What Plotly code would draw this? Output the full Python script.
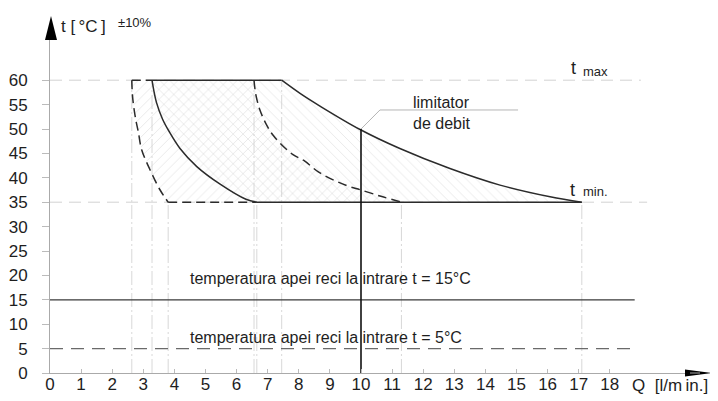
import plotly.graph_objects as go

# ---------------- data ----------------
q_ticks = list(range(0, 19))
t_ticks = list(range(0, 61, 5))

t_max = 60
t_min = 35
t_inlet_15 = 15
t_inlet_5 = 5
q_limit = 10
t_limit = 50

# left dashed curve (inlet 5 °C, minimum flow)
q_dash_left = [2.63, 2.65, 2.70, 2.77, 2.84, 2.95, 3.22, 3.54, 3.80]
t_dash_left = [60, 57, 54.2, 51.5, 49.4, 45.7, 41.6, 37.5, 35]

# left solid curve (inlet 15 °C, minimum flow)
q_solid_left = [3.28, 3.42, 3.62, 3.82, 4.18, 4.72, 5.47, 6.30, 6.65]
t_solid_left = [60, 55.5, 52.0, 49.6, 46.0, 42.3, 38.7, 35.6, 35]

# middle dashed curve (inlet 5 °C, maximum flow)
q_dash_mid = [6.56, 6.62, 6.75, 6.95, 7.20, 7.80, 8.15, 8.68, 9.54, 10.0, 10.7, 11.3]
t_dash_mid = [60, 57, 53.9, 51.0, 48.5, 44.8, 43.6, 41.0, 38.4, 37.5, 36.1, 35]

# right solid curve (inlet 15 °C, maximum flow)
q_solid_right = [7.45, 8.04, 8.68, 9.97, 11.25, 12.86, 14.47, 16.08, 17.1]
t_solid_right = [60, 57.3, 54.7, 49.9, 46.0, 41.9, 38.5, 36.1, 35]

inlet_line_q = [0, 18.8]

# ---------------- styling helpers ----------------
FONT = "Arial, Liberation Sans, sans-serif"
TXT = "#1e1e1e"
CURVE = "#2b2b2b"
DASH = "9px,5px"

OFF = 8  # page body margin
# plot area in screen pixels
L, R, T, B = 50, 700, 40, 373
W, H = 718 - OFF, 401 - OFF


def px(x, y):
    return (x - L) / (R - L), (B - y) / (B - T)


fig = go.Figure()

# horizontal reference lines at t max / t min (light dashed)
for tv, qend in [(t_max, 19.0), (t_min, 19.2)]:
    fig.add_trace(go.Scatter(x=[0, qend], y=[tv, tv], mode="lines",
                             line=dict(color="#d2d2d2", width=1, dash="12px,7px"),
                             hoverinfo="skip"))

# vertical dash-dot projection lines from curve end points
ends = [(q_dash_left[0], t_dash_left[0]), (q_dash_left[-1], t_dash_left[-1]),
        (q_solid_left[0], t_solid_left[0]), (q_solid_left[-1], t_solid_left[-1]),
        (q_dash_mid[0], t_dash_mid[0]), (q_dash_mid[-1], t_dash_mid[-1]),
        (q_solid_right[0], t_solid_right[0]), (q_solid_right[-1], t_solid_right[-1])]
for qv, tv in ends:
    fig.add_trace(go.Scatter(x=[qv, qv], y=[0, tv], mode="lines",
                             line=dict(color="#d8d8d8", width=1, dash="14px,3px,2px,3px"),
                             hoverinfo="skip"))

# hatched regions
region_a_q = q_dash_left + q_dash_mid[::-1] + [q_dash_left[0]]
region_a_t = t_dash_left + t_dash_mid[::-1] + [t_dash_left[0]]
region_b_q = q_solid_left + q_solid_right[::-1] + [q_solid_left[0]]
region_b_t = t_solid_left + t_solid_right[::-1] + [t_solid_left[0]]
fig.add_trace(go.Scatter(x=region_a_q, y=region_a_t, mode="lines", fill="toself",
                         line=dict(width=0), fillcolor="rgba(0,0,0,0)",
                         fillpattern=dict(shape="/", fgcolor="#cdcdcd", bgcolor="rgba(0,0,0,0)",
                                          size=7, solidity=0.12),
                         hoverinfo="skip"))
fig.add_trace(go.Scatter(x=region_b_q, y=region_b_t, mode="lines", fill="toself",
                         line=dict(width=0), fillcolor="rgba(0,0,0,0)",
                         fillpattern=dict(shape="\\", fgcolor="#cdcdcd", bgcolor="rgba(0,0,0,0)",
                                          size=7, solidity=0.12),
                         hoverinfo="skip"))

# inlet temperature lines
fig.add_trace(go.Scatter(x=inlet_line_q, y=[t_inlet_15] * 2, mode="lines",
                         line=dict(color="#3a3a3a", width=1.3), hoverinfo="skip"))
fig.add_trace(go.Scatter(x=inlet_line_q, y=[t_inlet_5] * 2, mode="lines",
                         line=dict(color="#6a6a6a", width=1.3, dash="13px,8px"), hoverinfo="skip"))

# boundaries: top and bottom segments
fig.add_trace(go.Scatter(x=[q_dash_left[0], q_solid_left[0]], y=[t_max, t_max], mode="lines",
                         line=dict(color=CURVE, width=1.5, dash=DASH), hoverinfo="skip"))
fig.add_trace(go.Scatter(x=[q_solid_left[0], q_solid_right[0]], y=[t_max, t_max], mode="lines",
                         line=dict(color=CURVE, width=1.5), hoverinfo="skip"))
fig.add_trace(go.Scatter(x=[q_dash_left[-1], q_solid_left[-1]], y=[t_min, t_min], mode="lines",
                         line=dict(color=CURVE, width=1.5, dash=DASH), hoverinfo="skip"))
fig.add_trace(go.Scatter(x=[q_solid_left[-1], q_solid_right[-1]], y=[t_min, t_min], mode="lines",
                         line=dict(color=CURVE, width=1.5), hoverinfo="skip"))

# curves
fig.add_trace(go.Scatter(x=q_dash_left, y=t_dash_left, mode="lines", line_shape="spline",
                         line=dict(color=CURVE, width=1.5, dash=DASH), hoverinfo="skip"))
fig.add_trace(go.Scatter(x=q_solid_left, y=t_solid_left, mode="lines", line_shape="spline",
                         line=dict(color=CURVE, width=1.5), hoverinfo="skip"))
fig.add_trace(go.Scatter(x=q_dash_mid, y=t_dash_mid, mode="lines", line_shape="spline",
                         line=dict(color=CURVE, width=1.5, dash=DASH), hoverinfo="skip"))
fig.add_trace(go.Scatter(x=q_solid_right, y=t_solid_right, mode="lines", line_shape="spline",
                         line=dict(color=CURVE, width=1.5), hoverinfo="skip"))

# flow limiter
fig.add_trace(go.Scatter(x=[q_limit, q_limit], y=[0, t_limit], mode="lines",
                         line=dict(color="#111", width=1.6), hoverinfo="skip"))

shapes = []
# leader line for "limitator de debit"
shapes.append(dict(type="line", xref="x", yref="y", x0=q_limit, y0=t_limit, x1=10.61, y1=53.9,
                   line=dict(color="#b5b5b5", width=1)))
shapes.append(dict(type="line", xref="x", yref="y", x0=10.61, y0=53.9, x1=15.05, y1=53.9,
                   line=dict(color="#b5b5b5", width=1)))
# axis arrows
ax1, ay1 = px(45, 40)
ax2, ay2 = px(57, 40)
ax3, ay3 = px(51, 16)
shapes.append(dict(type="path", xref="paper", yref="paper",
                   path=f"M {ax1} {ay1} L {ax2} {ay2} L {ax3} {ay3} Z",
                   fillcolor="#000", line=dict(width=0)))
bx1, by1 = px(685, 369.5)
bx2, by2 = px(685, 376.5)
bx3, by3 = px(711, 373)
shapes.append(dict(type="path", xref="paper", yref="paper",
                   path=f"M {bx1} {by1} L {bx2} {by2} L {bx3} {by3} Z",
                   fillcolor="#000", line=dict(width=0)))
# extend x-axis line under the arrow
sx0, sy0 = px(700, 373)
sx1, _ = px(690, 373)
shapes.append(dict(type="line", xref="paper", yref="paper", x0=sx1, y0=0, x1=sx0, y1=0,
                   line=dict(color="#aaa", width=1)))

annotations = []


def ann(text, x, y, size, xref="x", yref="y", color=TXT):
    annotations.append(dict(text=text, x=x, y=y, xref=xref, yref=yref, showarrow=False,
                            xanchor="left", yanchor="middle", align="left",
                            font=dict(family=FONT, size=size, color=color)))


ann("temperatura apei reci la intrare t = 15°C", 4.44, 19.4, 16)
ann("temperatura apei reci la intrare t = 5°C", 4.44, 7.3, 16)
ann("limitator", 11.6, 55.4, 16)
ann("de debit", 11.6, 51.1, 16)
ann("t", 16.7, 62.5, 18)
ann("max", 17.07, 61.8, 13)
ann("t", 16.66, 37.5, 18)
ann("min.", 17.07, 37.1, 13)

tx, ty = px(59, 26)
ann("t [\u2009°C\u2009]", tx, ty, 17, "paper", "paper")
tx, ty = px(116, 22)
ann("±10%", tx, ty, 13, "paper", "paper")
tx, ty = px(630, 386)
ann("Q  [l/m\u2009in.]", tx, ty, 17, "paper", "paper")

fig.update_layout(
    width=W, height=H,
    margin=dict(l=L - OFF, r=W - (R - OFF), t=T - OFF, b=H - (B - OFF), autoexpand=False),
    paper_bgcolor="white", plot_bgcolor="white",
    showlegend=False,
    shapes=shapes, annotations=annotations,
    xaxis=dict(range=[0, (R - L) / 31.1], tickvals=q_ticks, ticktext=[str(v) for v in q_ticks],
               ticks="inside", ticklen=4, tickcolor="#bbb", showline=True, linecolor="#aaa",
               linewidth=1, showgrid=False, zeroline=False, automargin=False,
               ticklabelstandoff=-4,
               tickfont=dict(family=FONT, size=17, color=TXT)),
    yaxis=dict(range=[0, (B - T) / 4.88], tickvals=t_ticks, ticktext=[str(v) for v in t_ticks],
               ticks="outside", ticklen=7, tickcolor="#bbb", showline=True, linecolor="#aaa",
               linewidth=1, showgrid=False, zeroline=False, ticklabelstandoff=11, automargin=False,
               tickfont=dict(family=FONT, size=17, color=TXT)),
)

fig.write_html("out.html")
